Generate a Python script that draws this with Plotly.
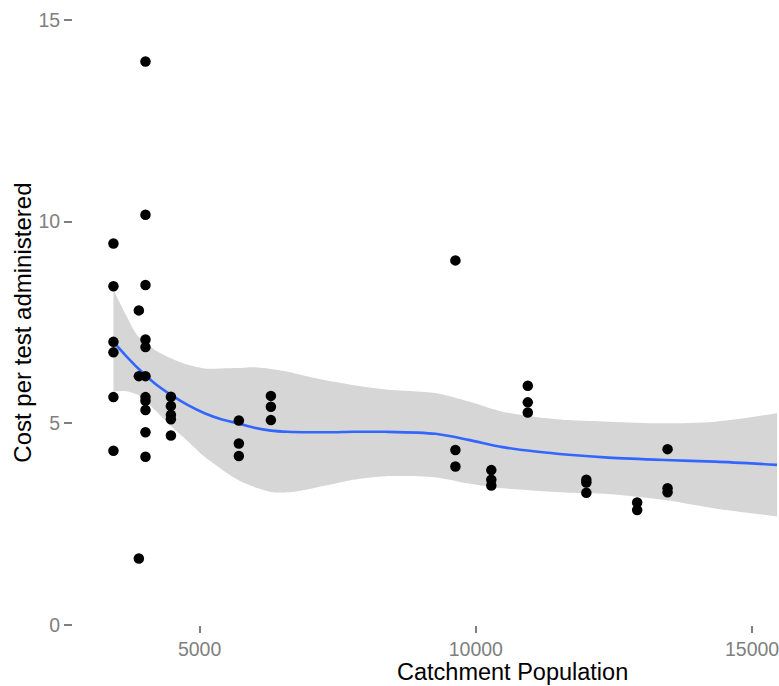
import plotly.graph_objects as go

# observed points
pop = [3440, 3440, 3440, 3440, 3440, 3440,
       3900, 3900, 3900,
       4020, 4020, 4020, 4020, 4020, 4020, 4020, 4020, 4020, 4020, 4020,
       4480, 4480, 4480, 4480, 4480,
       5710, 5710, 5710,
       6290, 6290, 6290,
       9630, 9630, 9630,
       10280, 10280, 10280,
       10940, 10940, 10940,
       12000, 12000, 12000,
       12920, 12920,
       13470, 13470, 13470]
cost = [9.46, 8.40, 7.02, 6.76, 5.65, 4.32,
        7.80, 6.17, 1.65,
        13.97, 10.17, 8.43, 7.08, 6.89, 6.17, 5.65, 5.56, 5.33, 4.78, 4.17,
        5.66, 5.43, 5.21, 5.10, 4.70,
        5.07, 4.50, 4.19,
        5.68, 5.41, 5.08,
        9.04, 4.34, 3.93,
        3.84, 3.60, 3.46,
        5.93, 5.52, 5.27,
        3.60, 3.53, 3.28,
        3.04, 2.85,
        4.36, 3.39, 3.29]

# loess smooth
smooth_x = [3440, 3650, 3890, 4190, 4490, 4790, 5090, 5390, 5690, 5990, 6290, 6600, 6900,
            7170, 7440, 7770, 8370, 9270, 9870, 10480, 11080, 11680, 12400, 13420, 14330, 15460]
smooth_fit = [7.02, 6.70, 6.36, 5.99, 5.70, 5.45, 5.25, 5.10, 5.00, 4.89, 4.82, 4.79, 4.78,
              4.78, 4.78, 4.79, 4.79, 4.74, 4.59, 4.41, 4.30, 4.22, 4.15, 4.09, 4.05, 3.97]
smooth_hi = [8.31, 7.73, 7.15, 6.82, 6.61, 6.45, 6.36, 6.36, 6.37, 6.39, 6.35, 6.28, 6.18,
             6.10, 6.03, 5.95, 5.84, 5.75, 5.54, 5.29, 5.16, 5.08, 5.04, 5.00, 5.04, 5.25]
smooth_lo = [5.79, 5.80, 5.70, 5.33, 4.92, 4.55, 4.17, 3.87, 3.60, 3.42, 3.30, 3.29, 3.35,
             3.43, 3.50, 3.60, 3.69, 3.66, 3.51, 3.39, 3.33, 3.28, 3.25, 3.10, 2.89, 2.69]

x_ticks = [5000, 10000, 15000]
x_tick_text = ["5000", "10000", "15000"]
y_ticks = [0, 5, 10, 15]
y_tick_text = ["0", "5", "10", "15"]

FONT = "Liberation Sans, Arial, sans-serif"
TICK_GREY = "#7f7f7f"

fig = go.Figure()
fig.add_trace(go.Scatter(x=smooth_x, y=smooth_lo, mode="lines", line=dict(width=0, shape="spline", smoothing=0.8),
                         hoverinfo="skip", showlegend=False))
fig.add_trace(go.Scatter(x=smooth_x, y=smooth_hi, mode="lines", line=dict(width=0, shape="spline", smoothing=0.8),
                         fill="tonexty", fillcolor="rgb(214,214,214)", hoverinfo="skip", showlegend=False))
fig.add_trace(go.Scatter(x=smooth_x, y=smooth_fit, mode="lines",
                         line=dict(color="#3366FF", width=2.6, shape="spline", smoothing=0.8), showlegend=False))
fig.add_trace(go.Scatter(x=pop, y=cost, mode="markers",
                         marker=dict(color="black", size=10.5, line=dict(width=0)), showlegend=False))

W, H = 779, 686
L, R, T, B = 73, 0, 20, 61
pw = W - L - R
ph = H - T - B

fig.update_layout(
    width=W, height=H,
    margin=dict(l=L, r=R, t=T, b=B, pad=0),
    paper_bgcolor="white", plot_bgcolor="white",
    font=dict(family=FONT, color="black"),
    showlegend=False,
    xaxis=dict(range=[2708, 15451], tickvals=x_ticks, ticktext=x_tick_text,
               showgrid=False, zeroline=False, showline=False,
               ticks="outside", ticklen=7, tickwidth=2, tickcolor=TICK_GREY,
               ticklabeloverflow="allow",
               tickfont=dict(size=19.5, color=TICK_GREY, family=FONT)),
    yaxis=dict(range=[0, 15], tickvals=y_ticks, ticktext=y_tick_text,
               showgrid=False, zeroline=False, showline=False,
               ticks="outside", ticklen=8, tickwidth=2, tickcolor=TICK_GREY,
               tickfont=dict(size=19.5, color=TICK_GREY, family=FONT)),
    annotations=[
        dict(text="Catchment Population", xref="paper", yref="paper",
             x=(514 - L) / pw, y=(H - B - 672) / ph, xanchor="center", yanchor="middle",
             showarrow=False, font=dict(size=23.5, color="black", family=FONT)),
        dict(text="Cost per test administered", xref="paper", yref="paper",
             x=(22 - L) / pw, y=0.5, xanchor="center", yanchor="middle", textangle=-90,
             showarrow=False, font=dict(size=24, color="black", family=FONT)),
    ],
)

fig.write_html("out.html", config={"displayModeBar": False},
               post_script="document.body.style.margin='0';document.body.style.overflow='hidden';")
